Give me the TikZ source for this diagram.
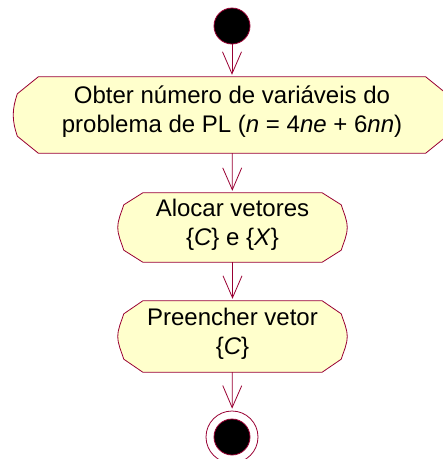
\documentclass[tikz,border=0pt]{standalone}
\usepackage{fontspec}
\setmainfont{Liberation Sans}
\usetikzlibrary{arrows.meta,calc,backgrounds}
\definecolor{umlline}{RGB}{153,0,51}
\definecolor{umlfill}{RGB}{255,255,204}
\tikzset{
  actborder/.style={draw=umlline, fill=umlfill, line width=0.8pt},
  actbox/.style={draw=none, inner sep=0pt},
  acttext/.style={inner sep=0pt, align=center, yshift=3pt, font=\fontsize{24}{29}\selectfont},
  flow/.style={draw=umlline, line width=0.8pt, -{Straight Barb[length=22pt,width=19pt]}, shorten >=2pt},
  initstate/.style={circle, fill=black, draw=umlline, line width=0.8pt, minimum size=36pt, inner sep=0pt},
  finalring/.style={circle, fill=white, draw=umlline, line width=0.8pt, minimum size=52pt, inner sep=0pt}
}
\newcommand\actoutline[4]{%
  \draw[actborder] ($(#1.north west)+(#2,0)$) -- ($(#1.north east)+(-#2,0)$)
    -- ($(#1.north east)+(-#4,#3)$) .. controls +(2.5,8) and +(0,-8) .. (#1.east)
    .. controls +(0,8) and +(2.5,-8) .. ($(#1.south east)+(-#4,-#3)$)
    -- ($(#1.south east)+(-#2,0)$) -- ($(#1.south west)+(#2,0)$)
    -- ($(#1.south west)+(#4,-#3)$) .. controls +(-2.5,-8) and +(0,8) .. (#1.west)
    .. controls +(0,-8) and +(-2.5,8) .. ($(#1.north west)+(#4,#3)$) -- cycle;}
\begin{document}
\begin{tikzpicture}[x=1pt, y=-1pt]
\useasboundingbox (0,0) rectangle (443,459);
\node[initstate] (s) at (232,26) {};
\node[actbox, minimum width=437pt, minimum height=76pt] (b1) at (232,115) {};
\node[actbox, minimum width=229pt, minimum height=69pt] (b2) at (232.5,227.5) {};
\node[actbox, minimum width=229pt, minimum height=71pt] (b3) at (232.5,336.5) {};
\node[finalring] (e) at (232,437) {};
\node[initstate] (ei) at (e) {};
\begin{scope}[on background layer]
  \actoutline{b1}{25}{17}{4}
  \actoutline{b2}{25}{12}{6}
  \actoutline{b3}{25}{13}{6}
\end{scope}
\node[acttext] (t1) at (b1) {Obter número de variáveis do\\problema de PL (\textit{n} = 4\textit{ne} + 6\textit{nn})};
\node[acttext] (t2) at (b2) {Alocar vetores\\\{\textit{C}\} e \{\textit{X}\}};
\node[acttext] (t3) at (b3) {Preencher vetor\\\{\textit{C}\}};
\draw[flow] (s) -- (b1);
\draw[flow] (b1) -- (b2);
\draw[flow] (b2) -- (b3);
\draw[flow] (b3) -- (e);
\end{tikzpicture}
\end{document}
